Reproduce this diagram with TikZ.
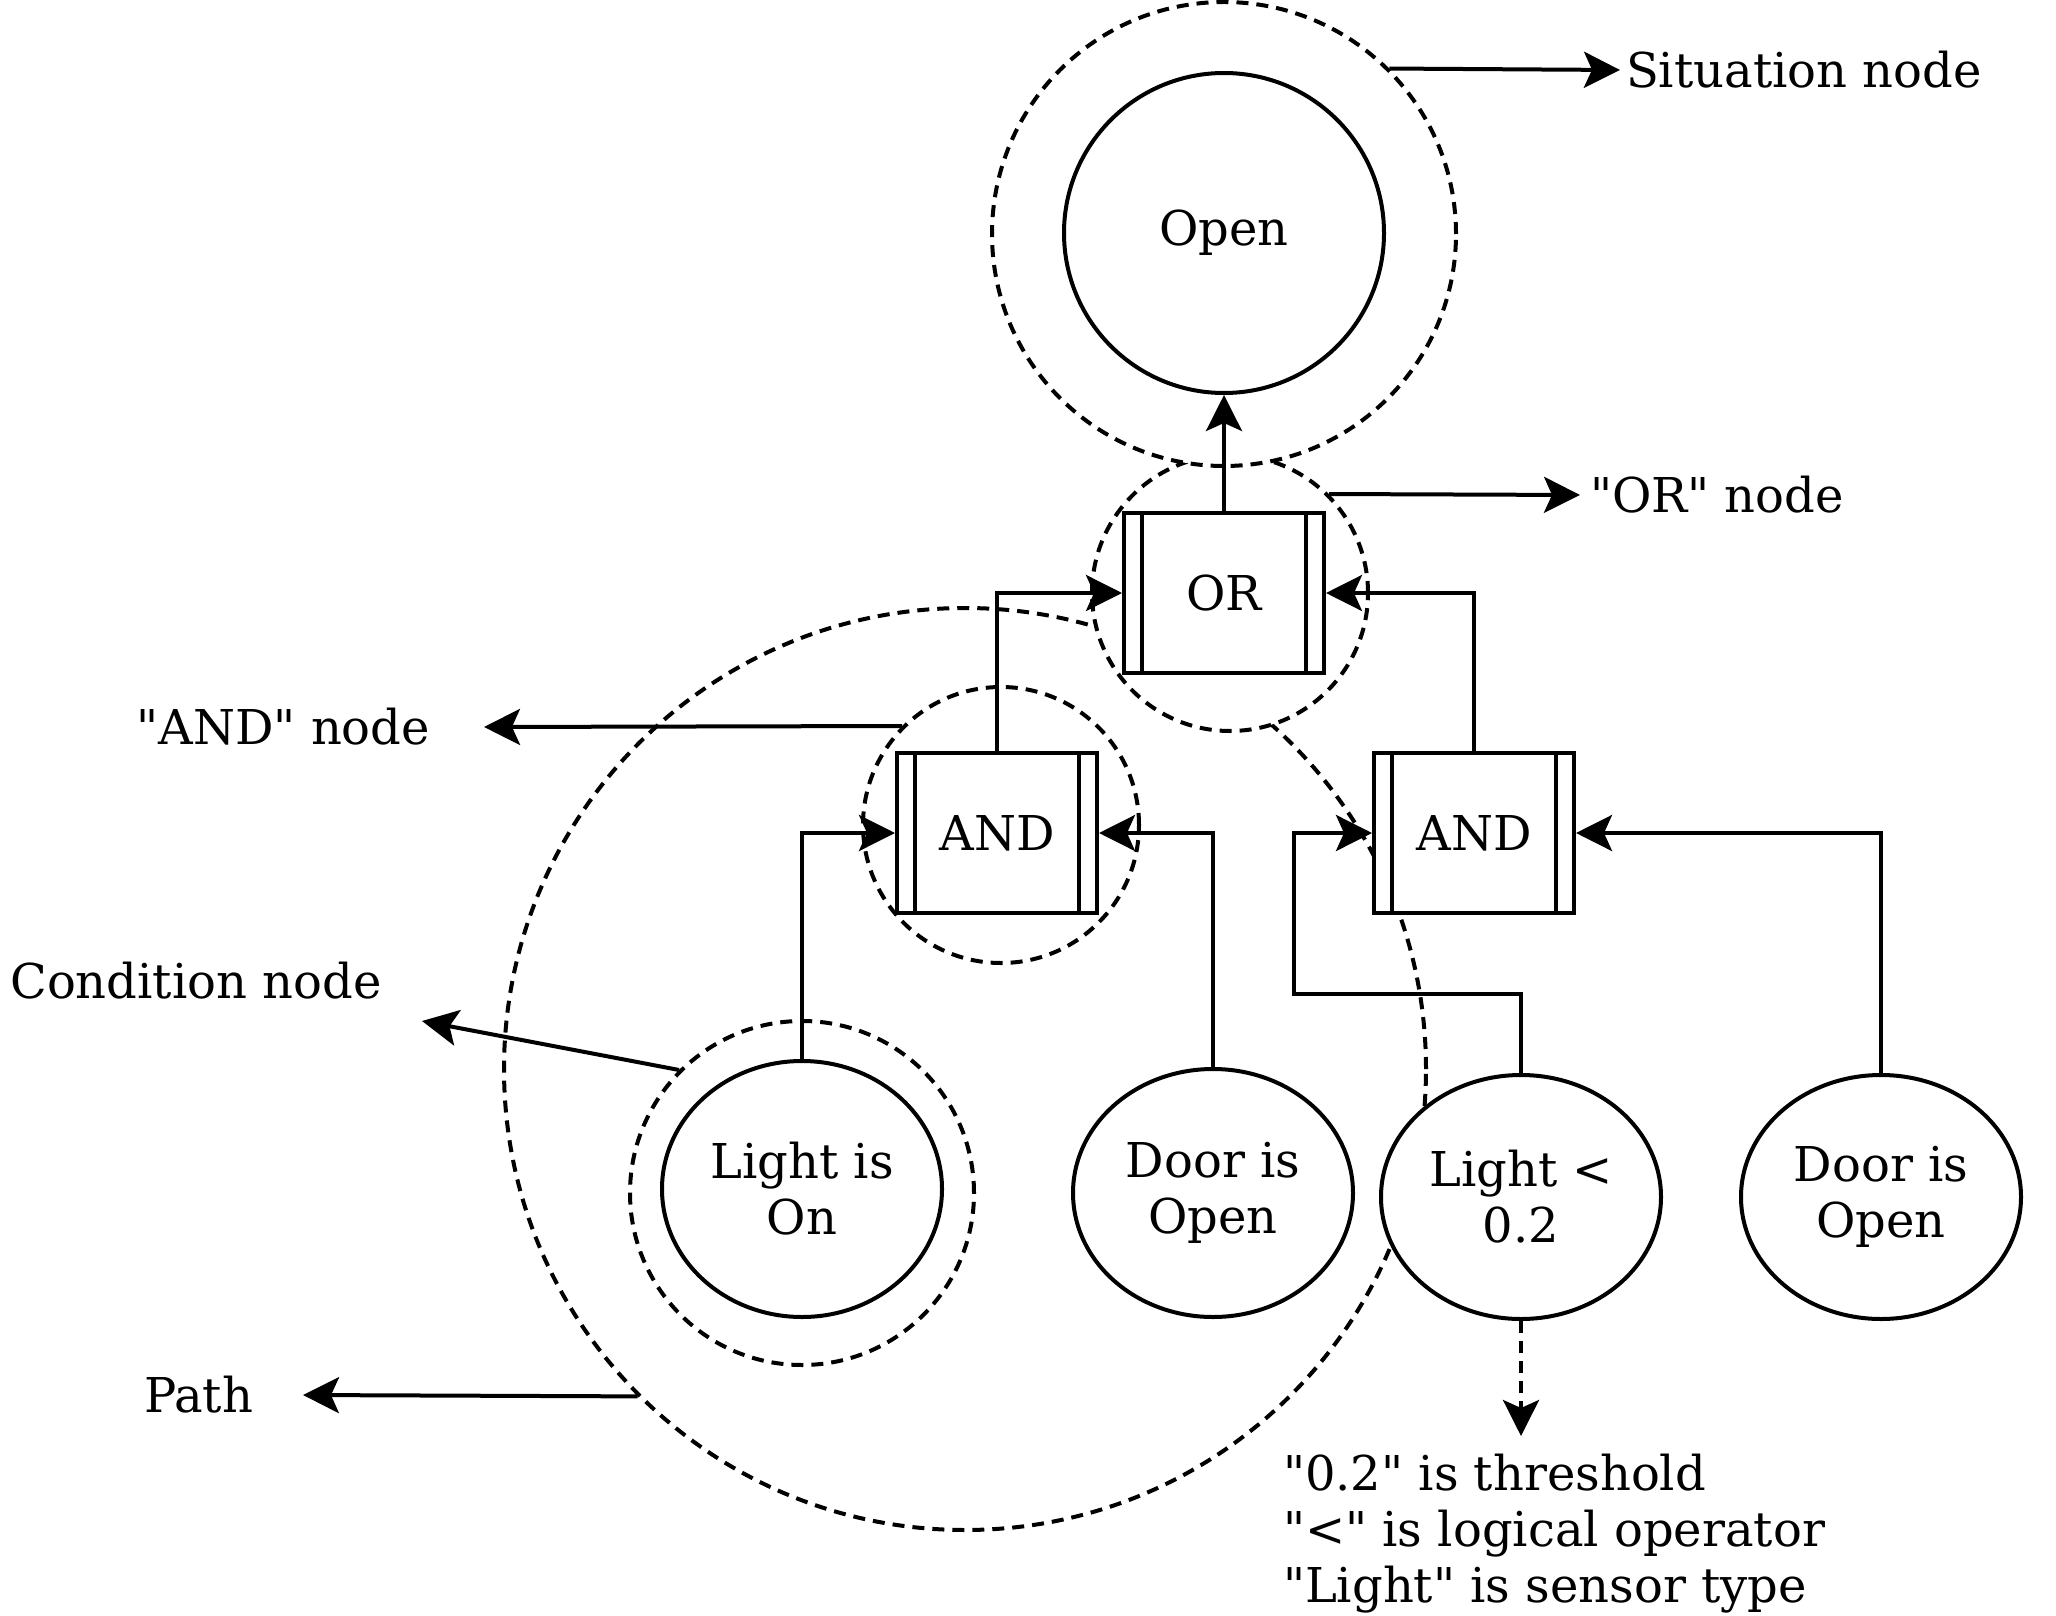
\documentclass[tikz,border=0pt]{standalone}
\usepackage{fontspec}
\setmainfont{DejaVu Serif}
\usetikzlibrary{arrows.meta,shapes.geometric,positioning}

\begin{document}
\begin{tikzpicture}[x=0.25pt,y=-0.25pt,line width=1pt,>={Stealth[length=9pt,width=9pt,inset=2pt]},
        font=\fontsize{12pt}{14pt}\selectfont,
        dashy/.style={dash pattern=on 3pt off 2pt},
        ring/.style={draw,dashy,circle,inner sep=0pt},
        cond/.style={draw,fill=white,ellipse,inner sep=0pt,align=center,minimum width=70pt},
        gate/.style={draw,fill=white,minimum width=50pt,minimum height=40pt,
            append after command={([xshift=5pt]\tikzlastnode.north west) edge ([xshift=5pt]\tikzlastnode.south west)
                ([xshift=-5pt]\tikzlastnode.north east) edge ([xshift=-5pt]\tikzlastnode.south east)}},
        lbl/.style={inner sep=0pt}]
        \useasboundingbox (0,0) rectangle (2056,1616);
        % dashed rings behind the nodes
        \node[ring,minimum size=230.5pt] (pathring) at (965,1069) {};
        \node[ring,fill=white,minimum size=69pt] (orring) at (1230,593) {};
        \node[ring,fill=white,minimum size=116pt] (sitring) at (1224,234) {};
        \node[ring,fill=white,minimum size=69pt] (andring) at (1001,825) {};
        \node[ring,minimum size=86pt] (condring) at (802,1193) {};
        % tree
        \node[draw,fill=white,circle,minimum size=80pt,inner sep=0pt] (open) at (1224,233) {Open};
        \node[gate] (orgate) at (1224,593) {OR};
        \node[gate] (andL) at (997,833) {AND};
        \node[gate] (andR) at (1474,833) {AND};
        \node[cond,minimum height=64pt] (lighton) at (802,1189) {Light is\\On};
        \node[cond,minimum height=62pt] (doorL) at (1213,1193) {Door is\\Open};
        \node[cond,minimum height=61pt] (lightlt) at (1521,1197) {Light <\\0.2};
        \node[cond,minimum height=61pt] (doorR) at (1881,1197) {Door is\\Open};
        \coordinate (elbow) at (1294,994);
        \draw[->] (lighton.north) |- (andL.west);
        \draw[->] (doorL.north) |- (andL.east);
        \draw[->] (lightlt.north) |- (elbow) |- (andR.west);
        \draw[->] (doorR.north) |- (andR.east);
        \draw[->] (andL.north) |- (orgate.west);
        \draw[->] (andR.north) |- (orgate.east);
        \draw[->] (orgate) -- (open);
        % note under the threshold condition
        \coordinate (notetip) at (1521,1436);
        \draw[->,dashy] (lightlt) -- (notetip);
        \node[lbl,align=left,anchor=west] (note) at (1281,1534) {\textquotedbl 0.2\textquotedbl{} is threshold\\\textquotedbl<\textquotedbl{} is logical operator\\\textquotedbl Light\textquotedbl{} is sensor type};
        % labels
        \coordinate (sittip) at (1620,70);
        \node[lbl,right=1pt of sittip] (sitlabel) {Situation node};
        \draw[->] (sitring.45) -- (sittip);
        \coordinate (ortip) at (1580,495);
        \node[lbl,right=2pt of ortip] (orlabel) {\textquotedbl OR\textquotedbl{} node};
        \draw[->] (orring.45) -- (ortip);
        \coordinate (andtip) at (484,727);
        \node[lbl,left=13pt of andtip] (andlabel) {\textquotedbl AND\textquotedbl{} node};
        \draw[->] (andring.135) -- (andtip);
        \coordinate (condtip) at (422,1021);
        \node[lbl] (condlabel) at (196,981) {Condition node};
        \draw[->] (condring.135) -- (condtip);
        \coordinate (pathtip) at (303,1395);
        \node[lbl,left=12pt of pathtip] (pathlabel) {Path};
        \draw[->] (pathring.225) -- (pathtip);
\end{tikzpicture}
\end{document}
